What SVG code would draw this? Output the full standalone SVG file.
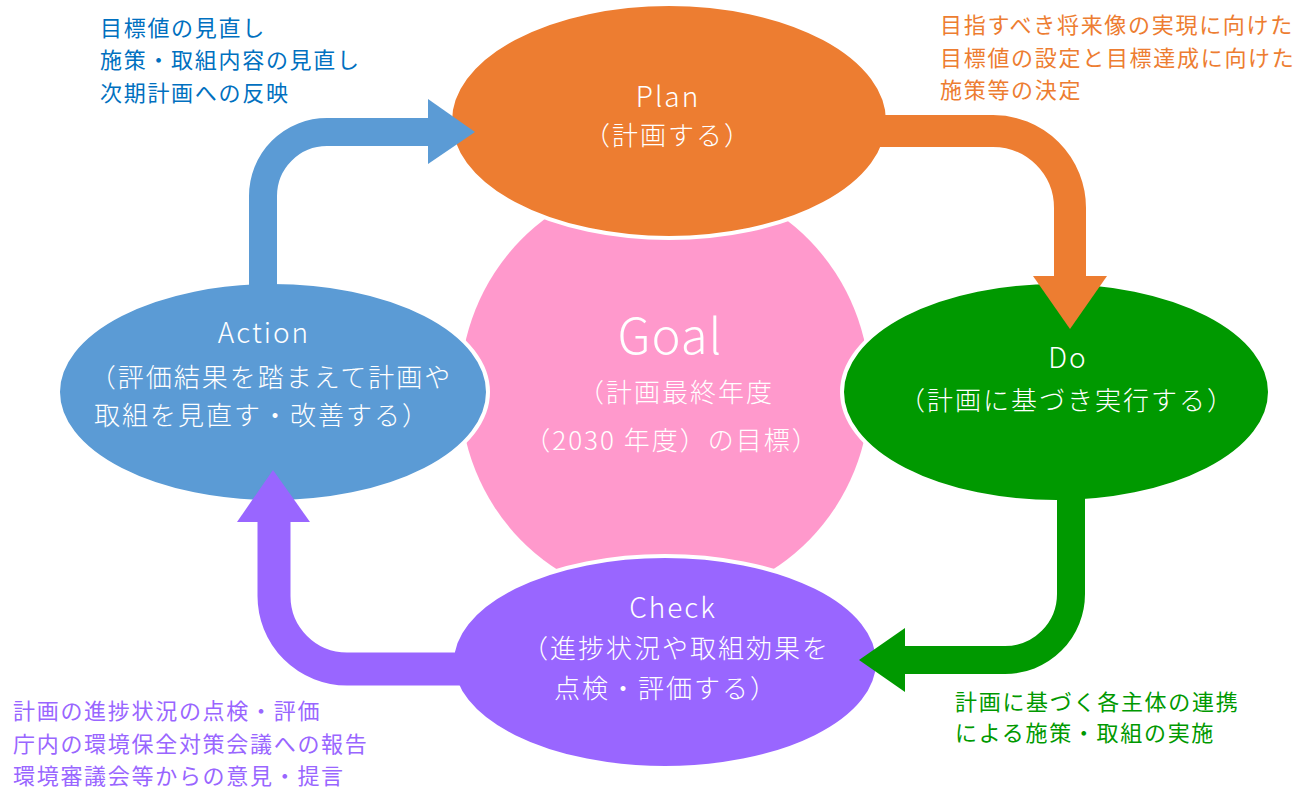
<svg xmlns="http://www.w3.org/2000/svg" width="1309" height="788" viewBox="0 0 1309 788">
<style>
.node{stroke:#FFFFFF;stroke-width:4}
.nt{font-family:"Noto Sans CJK JP","Noto Sans",sans-serif;font-weight:300;font-size:26px;fill:#FFFFFF;text-anchor:middle;letter-spacing:2px}
.lt{font-size:28px}
.ann{font-family:"Noto Sans CJK JP","Noto Sans",sans-serif;font-size:22px;letter-spacing:1.7px}
.shaft{fill:none;stroke-linecap:butt}
</style>
<rect width="1309" height="788" fill="#FFFFFF"/>
<g id="goal">
<ellipse cx="665" cy="390" rx="205" ry="211" fill="#FF99CC"/>
<text class="nt" x="670" y="354" style="font-size:49px;letter-spacing:1px">Goal</text>
<text class="nt" x="676" y="402">（計画最終年度</text>
<text class="nt" x="672" y="450">（2030 年度）の目標）</text>
</g>
<g id="plan">
<ellipse class="node" cx="669" cy="121" rx="219" ry="117" fill="#ED7D31"/>
<text class="nt lt" x="668" y="107">Plan</text>
<text class="nt" x="668" y="145">（計画する）</text>
</g>
<g id="do">
<ellipse class="node" cx="1056" cy="392" rx="214" ry="110" fill="#009900"/>
<text class="nt lt" x="1068" y="368">Do</text>
<text class="nt" x="1067" y="410">（計画に基づき実行する）</text>
</g>
<g id="check">
<ellipse class="node" cx="665" cy="662" rx="213" ry="106" fill="#9966FF"/>
<text class="nt lt" x="673" y="618">Check</text>
<text class="nt" x="676" y="658">（進捗状況や取組効果を</text>
<text class="nt" x="666" y="698">点検・評価する）</text>
</g>
<g id="action">
<ellipse class="node" cx="273" cy="392" rx="215" ry="110" fill="#5B9BD5"/>
<text class="nt lt" x="264" y="343">Action</text>
<text class="nt" x="271" y="387">（評価結果を踏まえて計画や</text>
<text class="nt" x="262" y="425">取組を見直す・改善する）</text>
</g>
<g id="connectors">
<path class="shaft" d="M 880 131 H 993 A 77 77 0 0 1 1070 208 V 277" stroke="#ED7D31" stroke-width="32"/>
<polygon points="1033,276 1107,276 1070,329" fill="#ED7D31"/>
<path class="shaft" d="M 1071 498 V 594 A 66 66 0 0 1 1005 660 H 904" stroke="#009900" stroke-width="28"/>
<polygon points="905,628 905,692 859,660" fill="#009900"/>
<path class="shaft" d="M 460 669 H 347 A 73 73 0 0 1 274 596 V 521" stroke="#9966FF" stroke-width="33"/>
<polygon points="237,522 310,522 273,470" fill="#9966FF"/>
<path class="shaft" d="M 263 290 V 196 A 64 64 0 0 1 327 132 H 429" stroke="#5B9BD5" stroke-width="28"/>
<polygon points="428,99 428,164 475,132" fill="#5B9BD5"/>
</g>
<g id="note-action" class="ann" fill="#0070C0">
<text x="100" y="36">目標値の見直し</text>
<text x="100" y="68">施策・取組内容の見直し</text>
<text x="100" y="101">次期計画への反映</text>
</g>
<g id="note-plan" class="ann" fill="#ED7D31">
<text x="940" y="33">目指すべき将来像の実現に向けた</text>
<text x="940" y="66">目標値の設定と目標達成に向けた</text>
<text x="940" y="98">施策等の決定</text>
</g>
<g id="note-do" class="ann" fill="#009900">
<text x="955" y="710">計画に基づく各主体の連携</text>
<text x="955" y="741">による施策・取組の実施</text>
</g>
<g id="note-check" class="ann" fill="#9966FF">
<text x="13" y="719">計画の進捗状況の点検・評価</text>
<text x="13" y="752">庁内の環境保全対策会議への報告</text>
<text x="13" y="784">環境審議会等からの意見・提言</text>
</g>
</svg>
